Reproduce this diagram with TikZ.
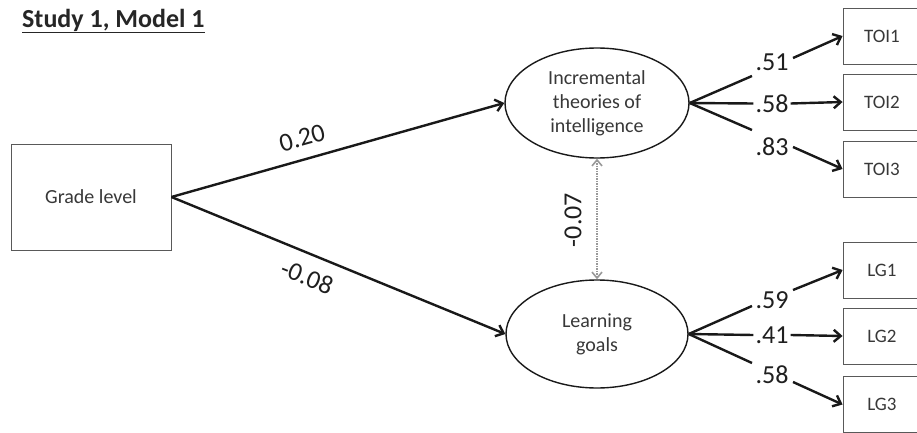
\documentclass[tikz,border=0pt]{standalone}
\usepackage{fontspec}
\setmainfont{Carlito}
\usetikzlibrary{arrows.meta,shapes.geometric}
\begin{document}
\begin{tikzpicture}[x=1pt,y=-1pt,
  box/.style={draw=black!65,line width=0.9pt,minimum width=78pt,minimum height=56pt,inner sep=0pt,font=\fontsize{19}{22}\selectfont,text=black!78},
  latent/.style={ellipse,draw=black!90,line width=1.4pt,inner sep=0pt,align=center,font=\fontsize{20}{24}\selectfont,text=black!78},
  num/.style={font=\fontsize{26}{28}\selectfont,text=black!88,inner xsep=2pt,inner ysep=0pt},
  pathline/.style={line width=2.4pt,draw=black!90},
  arr/.style={pathline,-{Straight Barb[length=7pt,width=12pt]}},
  cov/.style={line width=1.6pt,draw=black!40,dash pattern=on 1.5pt off 1pt,{Straight Barb[length=6pt,width=10pt]}-{Straight Barb[length=6pt,width=10pt]}}
]
\useasboundingbox (0,0) rectangle (917,433);
\clip (0,0) rectangle (917,433);
\fill[white] (0,0) rectangle (917,433);

% title
\node[anchor=west,inner sep=0pt,font=\bfseries\fontsize{26}{28}\selectfont,text=black!85] (title) at (22,21) {\underline{Study 1, Model 1}};

% nodes
\node[box,minimum width=160pt,minimum height=106pt,font=\fontsize{20}{24}\selectfont] (grade) at (91,197) {Grade level};
\node[latent,minimum width=184pt,minimum height=110pt] (toi) at (597,103) {Incremental\\theories of\\intelligence};
\node[latent,minimum width=182pt,minimum height=108pt] (lg) at (597,334) {Learning\\goals};

\node[box] (toi1) at (882,36) {TOI1};
\node[box] (toi2) at (882,102) {TOI2};
\node[box] (toi3) at (882,169) {TOI3};
\node[box] (lg1) at (882,270) {LG1};
\node[box] (lg2) at (882,336) {LG2};
\node[box] (lg3) at (882,404.5) {LG3};

% structural paths
\draw[arr] (grade.east) -- (toi.west);
\draw[arr] (grade.east) -- (lg.west);
\node[num,rotate=15.7] (b1) at (302,138) {0.20};
\node[num,rotate=-22] (b2) at (307,277) {-0.08};

% covariance
\draw[cov] (toi.south) -- (lg.north);
\node[num,rotate=90] (c1) at (573,220) {-0.07};

% loadings TOI
\node[num] (l51) at (772,62) {.51};
\node[num] (l58) at (772,103.5) {.58};
\node[num] (l83) at (772,147) {.83};
\coordinate (e51) at (752,76);
\coordinate (s51) at (793,58);
\coordinate (e83) at (752,130);
\coordinate (s83) at (793,147);
\draw[pathline] (toi.east) -- (e51);
\draw[arr] (s51) -- (toi1.west);
\draw[pathline] (toi.east) -- (l58.west);
\draw[arr] (l58.east) -- (toi2.west);
\draw[pathline] (toi.east) -- (e83);
\draw[arr] (s83) -- (toi3.west);

% loadings LG
\node[num] (l59) at (772,300) {.59};
\node[num] (l41) at (772,335) {.41};
\node[num] (l58b) at (772,375) {.58};
\coordinate (e59) at (752,306);
\coordinate (s59) at (793,290);
\coordinate (e58b) at (752,363);
\coordinate (s58b) at (793,382);
\draw[pathline] (lg.east) -- (e59);
\draw[arr] (s59) -- (lg1.west);
\draw[pathline] (lg.east) -- (l41.west);
\draw[arr] (l41.east) -- (lg2.west);
\draw[pathline] (lg.east) -- (e58b);
\draw[arr] (s58b) -- (lg3.west);
\end{tikzpicture}
\end{document}
